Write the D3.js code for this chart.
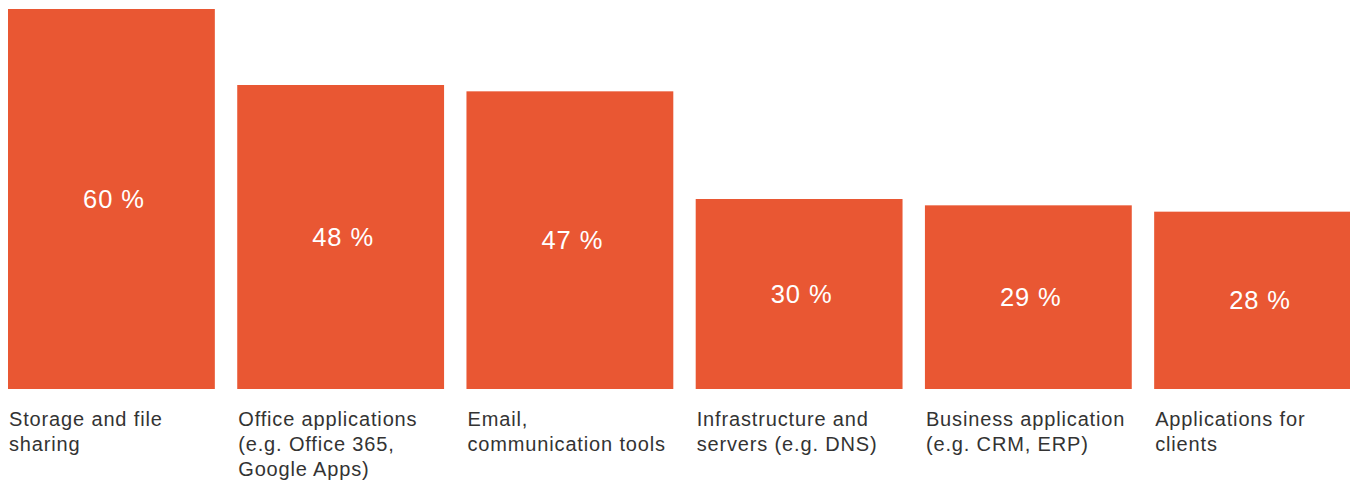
<!DOCTYPE html>
<html>
<head>
<meta charset="utf-8">
<script src="https://cdn.jsdelivr.net/npm/d3@7"></script>
<style>
  html, body { margin: 0; padding: 0; background: #fff; }
  svg { display: block; }
</style>
</head>
<body>
<svg id="chart" width="1350" height="481"></svg>
<script>
// Cloud services in use, share of respondents
const categories = [
  "Storage and file sharing",
  "Office applications (e.g. Office 365, Google Apps)",
  "Email, communication tools",
  "Infrastructure and servers (e.g. DNS)",
  "Business application (e.g. CRM, ERP)",
  "Applications for clients"
];
const labelLines = [
  ["Storage and file", "sharing"],
  ["Office applications", "(e.g. Office 365,", "Google Apps)"],
  ["Email,", "communication tools"],
  ["Infrastructure and", "servers (e.g. DNS)"],
  ["Business application", "(e.g. CRM, ERP)"],
  ["Applications for", "clients"]
];
const values = [60, 48, 47, 30, 29, 28];

const svg = d3.select("#chart");
const font = "'Liberation Sans', Arial, Helvetica, sans-serif";
const barColor = "#E95733";

const x = d3.scaleBand()
  .domain(categories)
  .range([8, 1361])
  .paddingInner(0.0977)
  .paddingOuter(0);

const y = d3.scaleLinear()
  .domain([0, 60])
  .range([389, 9]);

const data = categories.map((c, i) => ({ c, v: values[i], lines: labelLines[i] }));

// bars
svg.selectAll("rect.bar")
  .data(data)
  .join("rect")
  .attr("class", "bar")
  .attr("x", d => x(d.c))
  .attr("y", d => y(d.v))
  .attr("width", x.bandwidth())
  .attr("height", d => y(0) - y(d.v))
  .attr("fill", barColor);

// value labels, centred in each bar
const valueSize = 25.5;
svg.selectAll("text.value")
  .data(data)
  .join("text")
  .attr("class", "value")
  .attr("x", d => x(d.c) + x.bandwidth() / 2 + 2.5)
  .attr("y", d => (y(d.v) + y(0)) / 2 + valueSize * 0.358)
  .attr("text-anchor", "middle")
  .attr("font-family", font)
  .attr("font-size", valueSize)
  .attr("letter-spacing", 0.9)
  .attr("fill", "#fff")
  .text(d => d.v + " %");

// category labels under the bars
const catGroups = svg.selectAll("text.cat")
  .data(data)
  .join("text")
  .attr("class", "cat")
  .attr("font-family", font)
  .attr("font-size", 20)
  .attr("letter-spacing", 0.85)
  .attr("fill", "#333")
  .attr("x", d => x(d.c) + 1)
  .attr("y", 426);

catGroups.selectAll("tspan")
  .data(d => d.lines.map(l => ({ l, x0: x(d.c) + 1 })))
  .join("tspan")
  .attr("x", t => t.x0)
  .attr("dy", (t, i) => i === 0 ? 0 : 25)
  .text(t => t.l);
</script>
</body>
</html>
